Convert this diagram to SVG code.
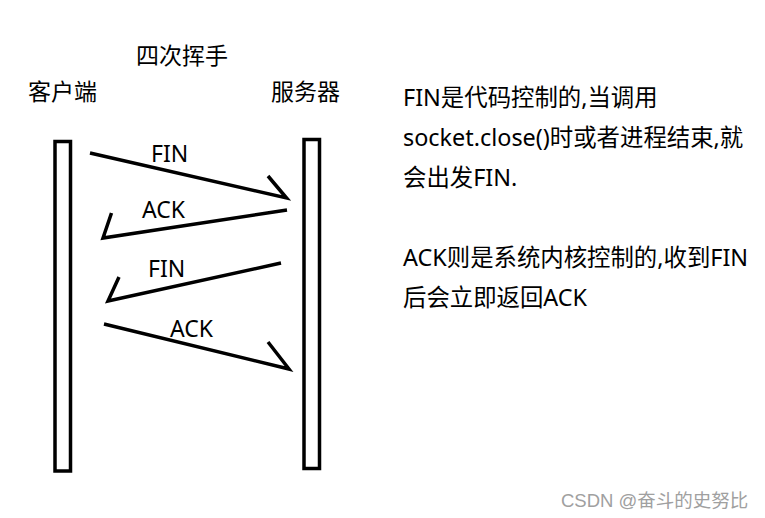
<svg xmlns="http://www.w3.org/2000/svg" width="765" height="518" viewBox="0 0 765 518">
<style>
.t{font-family:"Noto Sans","Noto Sans CJK SC",sans-serif;font-size:23px;fill:#000}
.n{font-size:23.4px}
.bar{fill:#fff;stroke:#000;stroke-width:3.5}
.ln{fill:none;stroke:#000;stroke-width:3.5;stroke-linecap:butt;stroke-linejoin:miter}
.wm{font-family:"Liberation Sans","Noto Sans CJK SC",sans-serif;font-size:18.5px;fill:#a0a0a0}
</style>
<rect width="765" height="518" fill="#fff"/>
<text class="t" x="136" y="64">四次挥手</text>
<g id="client">
<text class="t" x="28" y="100">客户端</text>
<rect class="bar" x="55" y="141.5" width="15.5" height="329.5"/>
</g>
<g id="server">
<text class="t" x="271" y="100">服务器</text>
<rect class="bar" x="304" y="139.5" width="15.5" height="329"/>
</g>
<g id="connectors">
<polyline class="ln" points="90,153 286.5,198 268,176"/>
<polyline class="ln" points="287,210 103,238 111.5,213"/>
<polyline class="ln" points="281,263 108,301 119,277"/>
<polyline class="ln" points="104,324 289,369 268,342"/>
<text class="t" x="151" y="162">FIN</text>
<text class="t" x="142" y="218">ACK</text>
<text class="t" x="148" y="277">FIN</text>
<text class="t" x="170" y="337">ACK</text>
</g>
<g id="note">
<text class="t n" x="403" y="106">FIN是代码控制的,当调用</text>
<text class="t n" x="403" y="146">socket.close()时或者进程结束,就</text>
<text class="t n" x="403" y="186">会出发FIN.</text>
<text class="t n" x="403" y="266">ACK则是系统内核控制的,收到FIN</text>
<text class="t n" x="403" y="306">后会立即返回ACK</text>
</g>
<text class="wm" x="561" y="507">CSDN @奋斗的史努比</text>
</svg>
